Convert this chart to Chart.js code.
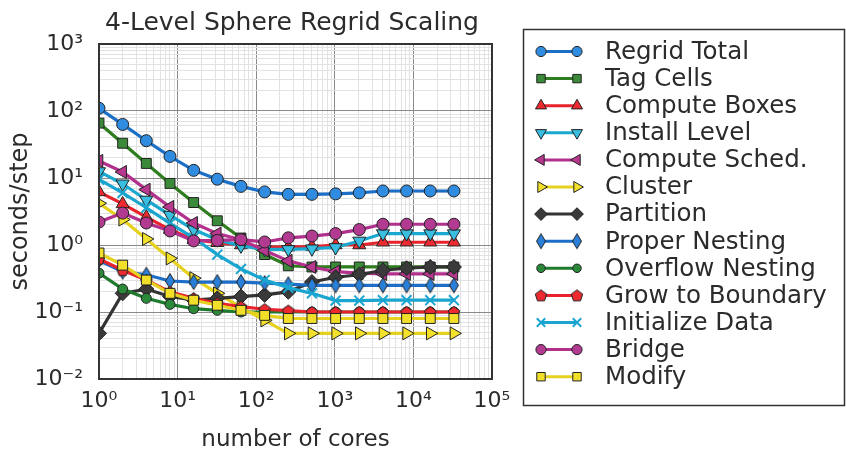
<!DOCTYPE html>
<html>
<head>
<meta charset="utf-8">
<script src="https://cdn.jsdelivr.net/npm/chart.js@4.4.1/dist/chart.umd.min.js"></script>
<style>
  html, body { margin: 0; padding: 0; background: #fff; }
  canvas { display: block; }
</style>
</head>
<body>
<canvas id="regridChart" width="846" height="460"></canvas>
<script>
/* Données (secondes/pas en fonction du nombre de coeurs) */
const cores = [1, 2, 4, 8, 16, 32, 64, 128, 256, 512, 1024, 2048, 4096, 8192, 16384, 32768];

const regridTotal     = [110, 63, 36, 21, 13, 9.6, 7.5, 6.2, 5.7, 5.7, 5.8, 6.0, 6.4, 6.4, 6.4, 6.4];
const tagCells        = [66, 33, 16.5, 8.3, 4.3, 2.3, 1.27, 0.72, 0.49, 0.47, 0.47, 0.47, 0.47, 0.47, 0.47, 0.47];
const computeBoxes    = [6.2, 4.1, 2.6, 1.7, 1.2, 1.08, 1.0, 0.93, 0.93, 0.95, 1.0, 1.0, 1.1, 1.1, 1.1, 1.1];
const installLevel    = [12.5, 8.2, 4.7, 2.8, 1.7, 1.2, 0.97, 0.86, 0.86, 0.88, 0.92, 1.15, 1.48, 1.48, 1.48, 1.48];
const computeSched    = [18, 12.3, 6.7, 3.7, 2.13, 1.48, 1.2, 0.83, 0.58, 0.47, 0.4, 0.38, 0.37, 0.37, 0.37, 0.37];
const cluster         = [4.2, 2.4, 1.23, 0.63, 0.32, 0.19, 0.117, 0.075, 0.048, 0.048, 0.048, 0.048, 0.048, 0.048, 0.048, 0.048];
const partition       = [0.048, 0.19, 0.22, 0.17, 0.15, 0.16, 0.17, 0.18, 0.2, 0.28, 0.33, 0.36, 0.42, 0.45, 0.47, 0.47];
const properNesting   = [0.59, 0.40, 0.36, 0.29, 0.28, 0.28, 0.28, 0.27, 0.26, 0.25, 0.25, 0.25, 0.25, 0.25, 0.25, 0.25];
const overflowNesting = [0.38, 0.22, 0.16, 0.13, 0.112, 0.106, 0.10, 0.10, 0.10, 0.10, 0.10, 0.10, 0.10, 0.10, 0.10, 0.10];
const growToBoundary  = [0.62, 0.42, 0.3, 0.2, 0.16, 0.135, 0.12, 0.11, 0.105, 0.1, 0.1, 0.1, 0.1, 0.1, 0.1, 0.1];
const initializeData  = [9.5, 6.0, 3.6, 2.1, 1.28, 0.72, 0.44, 0.30, 0.23, 0.19, 0.148, 0.148, 0.15, 0.15, 0.15, 0.15];
const bridge          = [2.2, 3.0, 2.13, 1.62, 1.15, 1.17, 1.2, 1.11, 1.28, 1.36, 1.48, 1.7, 2.04, 2.04, 2.04, 2.04];
const modify          = [0.76, 0.5, 0.3, 0.19, 0.15, 0.126, 0.106, 0.089, 0.08, 0.08, 0.08, 0.08, 0.08, 0.08, 0.08, 0.08];

const seriesNames = ['Regrid Total', 'Tag Cells', 'Compute Boxes', 'Install Level', 'Compute Sched.',
  'Cluster', 'Partition', 'Proper Nesting', 'Overflow Nesting', 'Grow to Boundary',
  'Initialize Data', 'Bridge', 'Modify'];
const seriesValues = [regridTotal, tagCells, computeBoxes, installLevel, computeSched,
  cluster, partition, properNesting, overflowNesting, growToBoundary,
  initializeData, bridge, modify];

const xTickExp = [0, 1, 2, 3, 4, 5];     // 10^0 .. 10^5
const yTickExp = [-2, -1, 0, 1, 2, 3];   // 10^-2 .. 10^3

const FONT = "'DejaVu Sans', 'Noto Sans', sans-serif";
const TEXT = '#2b2b2b';
const EDGE = '#222';

/* Marqueurs non fournis par Chart.js (pentagone, losange fin) */
function polyMarker(points, fill) {
  const size = 18;
  const cv = document.createElement('canvas');
  cv.width = size; cv.height = size;
  const c = cv.getContext('2d');
  c.beginPath();
  points.forEach(([px, py], i) => {
    const X = size / 2 + px, Y = size / 2 + py;
    i ? c.lineTo(X, Y) : c.moveTo(X, Y);
  });
  c.closePath();
  c.fillStyle = fill;
  c.fill();
  c.lineWidth = 1;
  c.strokeStyle = EDGE;
  c.stroke();
  return cv;
}
function pentagon(r, fill) {
  const pts = [];
  for (let i = 0; i < 5; i++) {
    const a = -Math.PI / 2 + i * 2 * Math.PI / 5;
    pts.push([r * Math.cos(a), r * Math.sin(a) + 0.5]);
  }
  return polyMarker(pts, fill);
}
function thinDiamond(h, w, fill) {
  return polyMarker([[0, -h], [w, 0], [0, h], [-w, 0]], fill);
}

/* Style de chaque série : couleur de ligne, remplissage, forme */
const styles = [
  { line: '#1b6fc6', fill: '#2f8ce0', shape: 'circle', r: 6 },
  { line: '#2e7d1e', fill: '#3a8a3a', shape: 'rect', r: 7 },
  { line: '#e8232b', fill: '#ee2a30', shape: 'triangle', r: 7.5, rot: 0 },
  { line: '#1aa8cf', fill: '#39bde0', shape: 'triangle', r: 7.5, rot: 180 },
  { line: '#b3318d', fill: '#b8378f', shape: 'triangle', r: 7.5, rot: -90 },
  { line: '#e6d11e', fill: '#f3e12c', shape: 'triangle', r: 7.5, rot: 90 },
  { line: '#333333', fill: '#3a3a3a', shape: 'rectRot', r: 7.5 },
  { line: '#1c6ec8', fill: '#2a80d8', shape: thinDiamond(7.5, 4.5, '#2a80d8'), r: 7 },
  { line: '#1e7b2e', fill: '#2a8a3a', shape: 'circle', r: 5 },
  { line: '#e8232b', fill: '#ee2a30', shape: pentagon(6, '#ee2a30'), r: 6 },
  { line: '#1aa5d0', fill: '#1aa5d0', shape: 'crossRot', r: 7, cross: true },
  { line: '#b0308c', fill: '#b23a90', shape: 'circle', r: 6 },
  { line: '#e6d11e', fill: '#f2df2a', shape: 'rect', r: 7 }
];

const datasets = seriesNames.map((name, i) => {
  const s = styles[i];
  return {
    label: name,
    data: cores.map((c, k) => ({ x: c, y: seriesValues[i][k] })),
    borderColor: s.line,
    borderWidth: 3.2,
    pointStyle: s.shape,
    pointRadius: s.r,
    pointRotation: s.rot || 0,
    pointBackgroundColor: s.fill,
    pointBorderColor: s.cross ? s.line : EDGE,
    pointBorderWidth: s.cross ? 2 : 1,
    tension: 0,
    order: seriesNames.length - i   // la dernière série passe au-dessus
  };
});

function isDecade(v) {
  const l = Math.log10(v);
  return Math.abs(l - Math.round(l)) < 1e-6;
}
const SUP = { '0': '⁰', '1': '¹', '2': '²', '3': '³', '4': '⁴', '5': '⁵', '-': '⁻' };
function powLabel(e) {
  return '10' + String(e).split('').map(ch => SUP[ch]).join('');
}
function logTicks(exps) {
  const t = [];
  for (let j = 0; j < exps.length - 1; j++) {
    for (let m = 1; m < 10; m++) t.push({ value: m * Math.pow(10, exps[j]) });
  }
  t.push({ value: Math.pow(10, exps[exps.length - 1]) });
  return t;
}
const gridColor = ctx => (ctx.tick && isDecade(ctx.tick.value)) ? '#8a8a8a' : '#e2e2e2';

/* Titre, cadre et légende dessinés à la main */
const decorPlugin = {
  id: 'decor',
  afterDraw(chart) {
    const { ctx, chartArea: a } = chart;
    ctx.save();
    ctx.strokeStyle = '#333';
    ctx.lineWidth = 2;
    ctx.strokeRect(a.left, a.top, a.right - a.left, a.bottom - a.top);

    ctx.fillStyle = TEXT;
    ctx.font = `25px ${FONT}`;
    ctx.textAlign = 'center';
    ctx.textBaseline = 'alphabetic';
    ctx.fillText('4-Level Sphere Regrid Scaling', 292, 30);

    // légende
    ctx.lineWidth = 1.5;
    ctx.strokeStyle = '#333';
    ctx.strokeRect(523.5, 29.5, 321, 376);
    ctx.font = `24.5px ${FONT}`;
    ctx.textAlign = 'left';
    ctx.textBaseline = 'middle';
    chart.data.datasets.forEach((ds, i) => {
      const y = 51.5 + i * 27.1;
      const s = styles[i];
      ctx.strokeStyle = s.line;
      ctx.lineWidth = 3;
      ctx.beginPath();
      ctx.moveTo(541, y);
      ctx.lineTo(577, y);
      ctx.stroke();
      [541, 577].forEach(x => {
        ctx.fillStyle = s.fill;
        ctx.strokeStyle = s.cross ? s.line : EDGE;
        ctx.lineWidth = s.cross ? 2 : 1;
        Chart.helpers.drawPoint(ctx, {
          pointStyle: s.shape, radius: s.r * 0.85, rotation: s.rot || 0,
          borderWidth: ctx.lineWidth
        }, x, y);
      });
      ctx.fillStyle = TEXT;
      ctx.fillText(ds.label, 605, y + 1);
    });
    ctx.restore();
  }
};

new Chart(document.getElementById('regridChart'), {
  type: 'line',
  data: { datasets },
  options: {
    responsive: false,
    animation: false,
    layout: { padding: { top: 44, right: 354, left: 0, bottom: 0 } },
    plugins: { legend: { display: false }, tooltip: { enabled: false } },
    scales: {
      x: {
        type: 'logarithmic',
        min: 1,
        max: 1e5,
        afterBuildTicks: scale => { scale.ticks = logTicks(xTickExp); },
        afterFit: scale => { scale.height = 81; },
        grid: { color: gridColor, lineWidth: 1, drawTicks: false },
        border: { display: false },
        ticks: {
          autoSkip: false,
          maxRotation: 0,
          padding: 9,
          color: TEXT,
          font: { family: FONT, size: 22 },
          callback: v => isDecade(v) ? powLabel(Math.round(Math.log10(v))) : ''
        },
        title: {
          display: true,
          text: 'number of cores',
          color: TEXT,
          font: { family: FONT, size: 23 },
          padding: { top: 0, bottom: 6 }
        }
      },
      y: {
        type: 'logarithmic',
        min: 0.01,
        max: 1000,
        afterBuildTicks: scale => { scale.ticks = logTicks(yTickExp); },
        afterFit: scale => { scale.width = 99; },
        grid: { color: gridColor, lineWidth: 1, drawTicks: false },
        border: { display: false },
        ticks: {
          autoSkip: false,
          padding: 16,
          color: TEXT,
          font: { family: FONT, size: 22 },
          callback: v => isDecade(v) ? powLabel(Math.round(Math.log10(v))) : ''
        },
        title: {
          display: true,
          text: 'seconds/step',
          color: TEXT,
          font: { family: FONT, size: 24 },
          padding: { top: 6, bottom: 0 }
        }
      }
    }
  },
  plugins: [decorPlugin]
});
</script>
</body>
</html>
